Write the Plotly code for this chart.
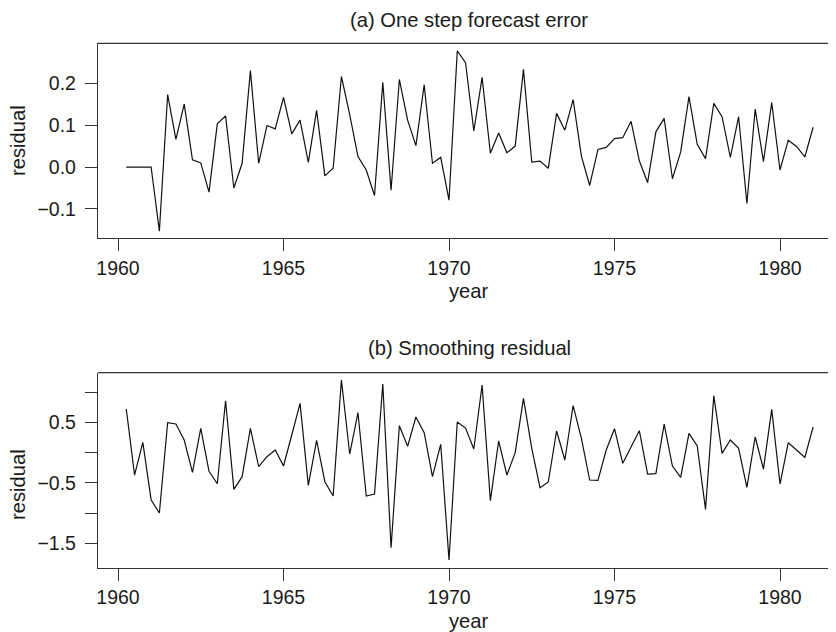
import numpy as np
import plotly.graph_objects as go

# Quarterly time index 1960.25 .. 1981.0
start_year = 1960.25
n_obs = 84
time = [start_year + 0.25 * i for i in range(n_obs)]

# (a) One step forecast error
forecast_error = [
    0.0, 0.0, 0.0, 0.0, -0.153, 0.173, 0.066, 0.150, 0.017, 0.010,
    -0.060, 0.103, 0.122, -0.050, 0.009, 0.230, 0.009, 0.099, 0.091, 0.166,
    0.079, 0.112, 0.011, 0.135, -0.021, -0.003, 0.216, 0.125, 0.025, -0.007,
    -0.068, 0.202, -0.055, 0.209, 0.112, 0.051, 0.196, 0.009, 0.023, -0.079,
    0.277, 0.249, 0.086, 0.214, 0.033, 0.081, 0.034, 0.050, 0.233, 0.012,
    0.014, -0.003, 0.128, 0.088, 0.161, 0.026, -0.044, 0.042, 0.047, 0.068,
    0.070, 0.109, 0.015, -0.037, 0.084, 0.116, -0.028, 0.036, 0.168, 0.054,
    0.020, 0.152, 0.120, 0.023, 0.120, -0.087, 0.138, 0.013, 0.154, -0.007,
    0.064, 0.049, 0.024, 0.095,
]

# (b) Smoothing residual
smoothing_residual = [
    0.721, -0.369, 0.171, -0.776, -0.996, 0.495, 0.473, 0.209, -0.325, 0.402,
    -0.308, -0.512, 0.858, -0.605, -0.396, 0.402, -0.231, -0.066, 0.044, -0.220,
    0.292, 0.814, -0.539, 0.204, -0.479, -0.715, 1.199, -0.022, 0.660, -0.715,
    -0.682, 1.133, -1.568, 0.446, 0.105, 0.589, 0.330, -0.396, 0.138, -1.771,
    0.506, 0.407, 0.061, 1.117, -0.792, 0.193, -0.369, 0.000, 0.897, 0.072,
    -0.578, -0.484, 0.358, -0.121, 0.776, 0.237, -0.451, -0.457, 0.044, 0.396,
    -0.176, 0.099, 0.363, -0.352, -0.347, 0.473, -0.220, -0.407, 0.319, 0.110,
    -0.935, 0.941, -0.011, 0.209, 0.072, -0.572, 0.259, -0.270, 0.715, -0.517,
    0.165, 0.044, -0.077, 0.424,
]

x_tickvals = [1960, 1965, 1970, 1975, 1980]
x_ticktext = ["1960", "1965", "1970", "1975", "1980"]
ya_tickvals = [-0.1, 0.0, 0.1, 0.2]
ya_ticktext = ["\u22120.1", "0.0", "0.1", "0.2"]
yb_tickvals = [-1.5, -1.0, -0.5, 0.0, 0.5, 1.0]
yb_ticktext = ["\u22121.5", "", "\u22120.5", "", "0.5", ""]

title_a = "(a) One step forecast error"
title_b = "(b) Smoothing residual"
xlab = "year"
ylab = "residual"

# The page body has an 8px default margin: figure sits at (8, 8) in the window.
OFF = 8
W, H = 836 - OFF, 632 - OFF
ML, MR, MT, MB = 98 - OFF, 0, 43 - OFF, 632 - 568
PW, PH = W - ML - MR, H - MT - MB


def px_x(p):
    # screen pixel -> paper coordinate
    return (p - OFF - ML) / PW


def px_y(p):
    return (H - MB - (p - OFF)) / PH


FONT = "Liberation Sans, Arial, Helvetica, sans-serif"
TXT = "#1a1a1a"
AX = "#333333"

fig = go.Figure()
fig.add_trace(go.Scatter(x=time, y=forecast_error, mode="lines",
                         line=dict(color="#111111", width=1.2),
                         xaxis="x", yaxis="y", showlegend=False))
fig.add_trace(go.Scatter(x=time, y=smoothing_residual, mode="lines",
                         line=dict(color="#111111", width=1.2),
                         xaxis="x2", yaxis="y2", showlegend=False))

# 1960 at screen x=118, 33.1 px per year; plot right edge at screen x=836
xrange = [1960 - (118 - 98) / 33.1, 1960 + (836 - 118) / 33.1]

common_x = dict(range=xrange, tickvals=x_tickvals, ticktext=x_ticktext,
                showline=True, linecolor=AX, linewidth=1.3, mirror=False,
                ticks="outside", ticklen=12, tickwidth=1.2, tickcolor=AX,
                showgrid=False, zeroline=False, automargin=False,
                tickfont=dict(family=FONT, size=19.5, color=TXT))
common_y = dict(showline=True, linecolor=AX, linewidth=1.3, mirror=False,
                ticks="outside", ticklen=12, tickwidth=1.2, tickcolor=AX,
                showgrid=False, zeroline=False, ticklabelstandoff=5,
                automargin=False,
                tickfont=dict(family=FONT, size=19.5, color=TXT))

fig.update_layout(
    width=W, height=H,
    margin=dict(l=ML, r=MR, t=MT, b=MB, autoexpand=False),
    paper_bgcolor="white", plot_bgcolor="white",
    xaxis=dict(domain=[0, 1], anchor="y", **common_x),
    yaxis=dict(domain=[px_y(238.3), px_y(43.3)], anchor="x",
               range=[-0.170, 0.2952], tickvals=ya_tickvals, ticktext=ya_ticktext,
               **common_y),
    xaxis2=dict(domain=[0, 1], anchor="y2", **common_x),
    yaxis2=dict(domain=[px_y(567.7), px_y(372.7)], anchor="x2",
                range=[-1.898, 1.32], tickvals=yb_tickvals, ticktext=yb_ticktext,
                **common_y),
)

# top borders of the boxes (box is cropped on the right)
for xr, yref in [("x", "y"), ("x2", "y2")]:
    fig.add_shape(type="line", xref=f"{xr} domain", yref=f"{yref} domain",
                  x0=0, x1=1, y0=1, y1=1, line=dict(color=AX, width=1.3))

annots = [
    (title_a, 469, OFF, 0, "top"),
    (title_b, 469, 348, 0, "middle"),
    (xlab, 469, 291, 0, "middle"),
    (xlab, 469, 621, 0, "middle"),
    (ylab, 18, 141, -90, "middle"),
    (ylab, 18, 485, -90, "middle"),
]
for text, xp, yp, ang, ya in annots:
    fig.add_annotation(text=text, xref="paper", yref="paper",
                       x=px_x(xp), y=px_y(yp), xanchor="center", yanchor=ya,
                       textangle=ang, showarrow=False, borderpad=0,
                       font=dict(family=FONT, size=20.2, color=TXT))

fig.write_html("out.html")
